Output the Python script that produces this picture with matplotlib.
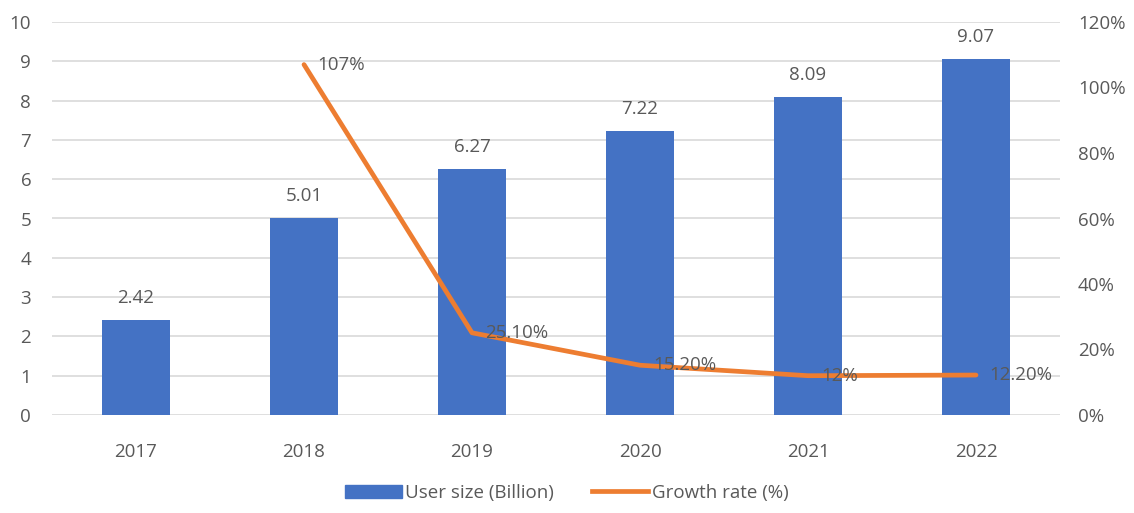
import numpy as np
import matplotlib.pyplot as plt
from matplotlib.patches import Patch
from matplotlib.lines import Line2D

years = ["2017", "2018", "2019", "2020", "2021", "2022"]
user_size = [2.42, 5.01, 6.27, 7.22, 8.09, 9.07]
growth_years = ["2018", "2019", "2020", "2021", "2022"]
growth = [107, 25.1, 15.2, 12, 12.2]
growth_labels = ["107%", "25.10%", "15.20%", "12%", "12.20%"]

plt.rcParams['font.family'] = ['Open Sans', 'DejaVu Sans']
txt = "#595959"
fs = 13.5

fig = plt.figure(figsize=(11.34, 5.13), dpi=100)
ax = fig.add_axes([52/1134, 98/513, 1008/1134, 393/513])
ax2 = ax.twinx()

x = np.arange(len(years))
ax.bar(x, user_size, width=0.4, color="#4472C4", zorder=2)
for xi, v in zip(x, user_size):
	ax.text(xi, v + 0.33, "{:.2f}".format(v), ha="center", va="bottom", fontsize=fs, color=txt)

gx = [years.index(y) for y in growth_years]
ax2.plot(gx, growth, color="#ED7D31", linewidth=3.4, solid_capstyle="round", zorder=3)
for xi, v, lab in zip(gx, growth, growth_labels):
	ax2.text(xi + 0.08, v, lab, ha="left", va="center", fontsize=fs, color=txt)

ax.set_xlim(-0.5, len(years) - 0.5)
ax.set_ylim(0, 10)
ax.set_yticks(np.arange(0, 11, 1))
ax.set_xticks(x)
ax.set_xticklabels(years)
ax.grid(axis="y", color="#d9d9d9", linewidth=1.2, zorder=0)
ax.set_axisbelow(True)
ax2.set_ylim(0, 120)
ax2.set_yticks(np.arange(0, 121, 20))
ax2.set_yticklabels(["{}%".format(v) for v in range(0, 121, 20)])

for a in (ax, ax2):
	for s in a.spines.values():
		s.set_visible(False)
	a.tick_params(length=0, labelsize=fs, colors=txt)
ax.tick_params(axis="y", pad=15)
ax.tick_params(axis="x", pad=20)
ax2.tick_params(axis="y", pad=13)

handles = [Patch(color="#4472C4"), Line2D([0], [0], color="#ED7D31", linewidth=3.4)]
fig.legend(handles, ["User size (Billion)", "Growth rate (%)"], loc="center", bbox_to_anchor=(0.5, 20/513),
	ncol=2, frameon=False, fontsize=fs, labelcolor=txt, handlelength=3.0, handletextpad=0.2, columnspacing=2.0)

plt.savefig("out.png")
